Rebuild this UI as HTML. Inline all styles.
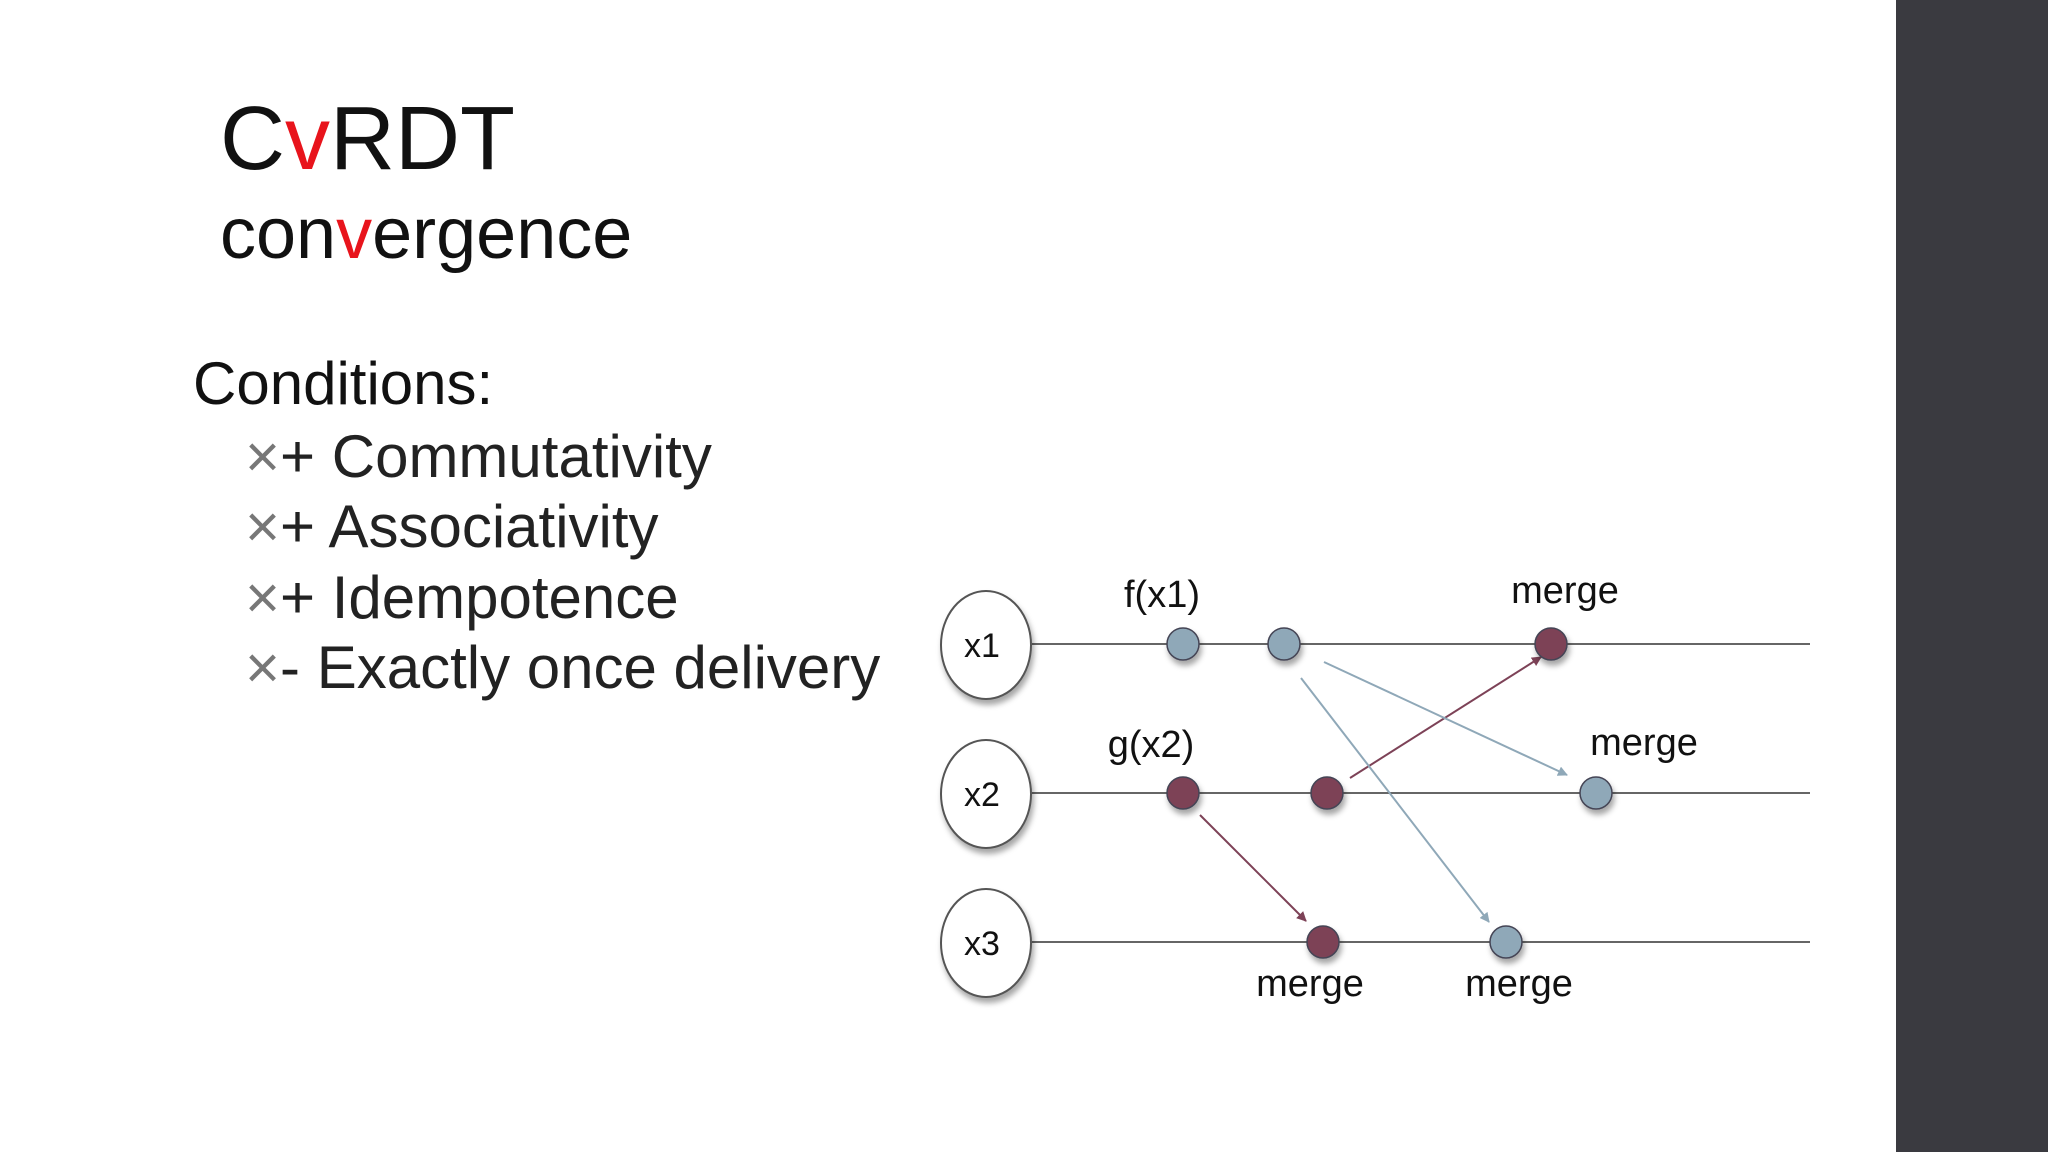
<!DOCTYPE html>
<html><head><meta charset="utf-8"><style>
html,body{margin:0;padding:0}
body{width:2048px;height:1152px;overflow:hidden;background:#fff;position:relative;font-family:"Liberation Sans",Arial,sans-serif}
.side{position:absolute;left:1896px;top:0;width:152px;height:1152px;background:#3a3a40}
.t{position:absolute;white-space:nowrap;line-height:1}
.r{color:#e8141c}
</style></head><body>
<div class="side"></div>
<div class="t" style="left:220px;top:94px;font-size:90px;color:#111">C<span class="r">v</span>RDT</div>
<div class="t" style="left:220px;top:198px;font-size:72px;color:#111">con<span class="r">v</span>ergence</div>
<div class="t" style="left:193px;top:354px;font-size:60px;color:#111">Conditions:</div>
<div class="t" style="left:245px;top:427px;font-size:60px;color:#222"><span style="color:#777">×</span>+ Commutativity</div>
<div class="t" style="left:245px;top:497px;font-size:60px;color:#222"><span style="color:#777">×</span>+ Associativity</div>
<div class="t" style="left:245px;top:568px;font-size:60px;color:#222"><span style="color:#777">×</span>+ Idempotence</div>
<div class="t" style="left:245px;top:638px;font-size:60px;color:#222"><span style="color:#777">×</span>- Exactly once delivery</div>
<svg width="2048" height="1152" style="position:absolute;left:0;top:0" font-family="Liberation Sans, Arial, sans-serif">
<defs>
<filter id="sh" x="-30%" y="-30%" width="160%" height="160%"><feDropShadow dx="2" dy="5" stdDeviation="3" flood-color="#000" flood-opacity="0.35"/></filter>
<marker id="ab" markerWidth="10" markerHeight="10" refX="9" refY="5" orient="auto" markerUnits="userSpaceOnUse"><path d="M0,0 L10,5 L0,10 Z" fill="#8fa8b8"/></marker>
<marker id="am" markerWidth="10" markerHeight="10" refX="9" refY="5" orient="auto" markerUnits="userSpaceOnUse"><path d="M0,0 L10,5 L0,10 Z" fill="#7d4257"/></marker>
</defs>
<g stroke="#666" stroke-width="2">
<line x1="1032" y1="644" x2="1810" y2="644"/>
<line x1="1032" y1="793" x2="1810" y2="793"/>
<line x1="1032" y1="942" x2="1810" y2="942"/>
</g>
<g fill="#fff" stroke="#555" stroke-width="2" filter="url(#sh)">
<ellipse cx="986" cy="645" rx="45" ry="54"/>
<ellipse cx="986" cy="794" rx="45" ry="54"/>
<ellipse cx="986" cy="943" rx="45" ry="54"/>
</g>
<g font-size="34" fill="#111" text-anchor="middle">
<text x="982" y="657">x1</text><text x="982" y="806">x2</text><text x="982" y="955">x3</text>
</g>
<g stroke-width="2" fill="none">
<line x1="1350" y1="778" x2="1541" y2="657" stroke="#7d4257" marker-end="url(#am)"/>
<line x1="1324" y1="662" x2="1567" y2="775" stroke="#8fa8b8" marker-end="url(#ab)"/>
<line x1="1301" y1="678" x2="1489" y2="922" stroke="#8fa8b8" marker-end="url(#ab)"/>
<line x1="1200" y1="815" x2="1306" y2="921" stroke="#7d4257" marker-end="url(#am)"/>
</g>
<g stroke="#445" stroke-width="1.5" filter="url(#sh)">
<circle cx="1183" cy="644" r="16" fill="#8fa8b8"/>
<circle cx="1284" cy="644" r="16" fill="#8fa8b8"/>
<circle cx="1551" cy="644" r="16" fill="#7d4257"/>
<circle cx="1183" cy="793" r="16" fill="#7d4257"/>
<circle cx="1327" cy="793" r="16" fill="#7d4257"/>
<circle cx="1596" cy="793" r="16" fill="#8fa8b8"/>
<circle cx="1323" cy="942" r="16" fill="#7d4257"/>
<circle cx="1506" cy="942" r="16" fill="#8fa8b8"/>
</g>
<g font-size="38" fill="#111" text-anchor="middle">
<text x="1162" y="607">f(x1)</text>
<text x="1565" y="603">merge</text>
<text x="1151" y="757">g(x2)</text>
<text x="1644" y="755">merge</text>
<text x="1310" y="996">merge</text>
<text x="1519" y="996">merge</text>
</g>
</svg>
</body></html>
